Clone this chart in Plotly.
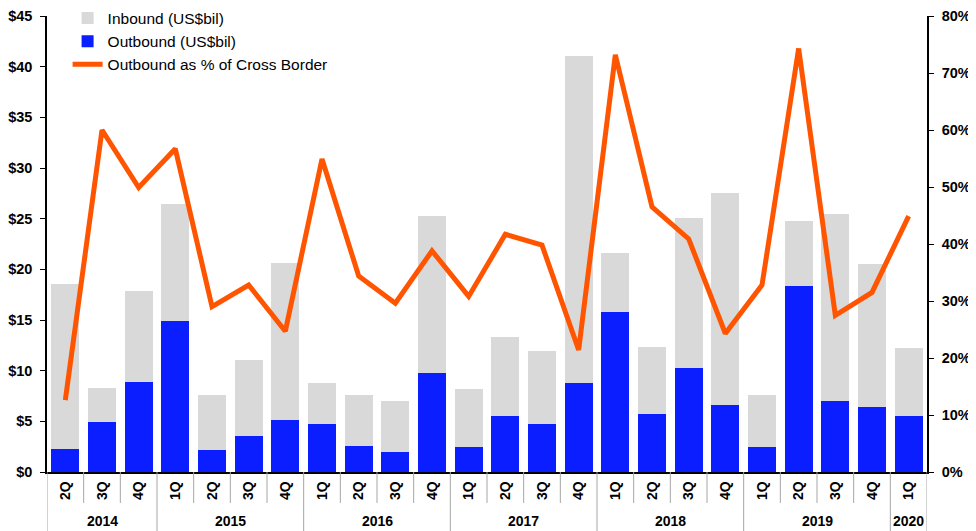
import plotly.graph_objects as go

years = ["2014"]*3 + ["2015"]*4 + ["2016"]*4 + ["2017"]*4 + ["2018"]*4 + ["2019"]*4 + ["2020"]
quarters = ["2Q", "3Q", "4Q"] + ["1Q", "2Q", "3Q", "4Q"]*5 + ["1Q"]

outbound = [2.27, 4.93, 8.88, 14.93, 2.14, 3.55, 5.10, 4.74, 2.57, 1.97, 9.74, 2.47,
            5.53, 4.74, 8.75, 15.79, 5.72, 10.23, 6.61, 2.47, 18.39, 6.97, 6.41, 5.49]
inbound = [16.28, 3.36, 9.02, 11.52, 5.49, 7.47, 15.53, 4.01, 5.00, 5.00, 15.49, 5.69,
           7.76, 7.20, 32.34, 5.79, 6.62, 14.80, 20.89, 5.13, 6.35, 18.46, 14.09, 6.78]
outbound_pct = [0.126, 0.600, 0.499, 0.567, 0.290, 0.328, 0.247, 0.549, 0.344, 0.296, 0.388, 0.308,
                0.417, 0.398, 0.214, 0.732, 0.465, 0.409, 0.243, 0.328, 0.743, 0.275, 0.315, 0.449]

left_ticks = list(range(0, 50, 5))
left_labels = [f"${v}" for v in left_ticks]
right_ticks = [i / 10 for i in range(0, 9)]
right_labels = [f"{i*10}%" for i in range(0, 9)]

FONT = "Liberation Sans, Arial, sans-serif"
GRID = "#A6A6A6"
cats = [f"{q} {y}" for y, q in zip(years, quarters)]
n = len(cats)

fig = go.Figure()
fig.add_trace(go.Bar(x=cats, y=outbound, name="Outbound (US$bil)", marker=dict(color="#0A1EFF", line=dict(width=0)),
                     legendrank=2, legendgroup="b"))
fig.add_trace(go.Bar(x=cats, y=inbound, name="Inbound (US$bil)", marker=dict(color="#D9D9D9", line=dict(width=0)),
                     legendrank=1, legendgroup="a"))
fig.add_trace(go.Scatter(x=cats, y=outbound_pct, name="Outbound as % of Cross Border", mode="lines",
                         line=dict(color="#FF5500", width=5), yaxis="y2", legendrank=3, legendgroup="c"))

# year group boundaries and centres (category index units)
groups = []
start = 0
for i in range(1, n + 1):
    if i == n or years[i] != years[start]:
        groups.append((years[start], start, i - 1))
        start = i

PLOT_H = 456
quarter_sep = -31 / PLOT_H
bottom = -59 / PLOT_H
year_bounds = {g[1] - 0.5 for g in groups} | {groups[-1][2] + 0.5}

for i in range(n + 1):
    b = i - 0.5
    fig.add_shape(type="line", xref="x", yref="paper", x0=b, x1=b, y0=0,
                  y1=bottom if b in year_bounds else quarter_sep,
                  line=dict(color=GRID, width=1), layer="above")

for label, s, e in groups:
    fig.add_annotation(x=(s + e) / 2, y=-49 / PLOT_H, xref="x", yref="paper", text=label,
                       showarrow=False, yanchor="middle",
                       font=dict(size=14, family=FONT, weight="bold", color="black"))

# page body has an 8px default margin: size the figure so the plot area lands where the reference has it
fig.update_layout(
    width=968, height=523,
    margin=dict(l=39, r=49, t=8, b=59, autoexpand=False),
    barmode="stack", bargap=0.245,
    plot_bgcolor="white", paper_bgcolor="white",
    font=dict(family=FONT, size=14, color="black"),
    showlegend=True,
    legend=dict(x=0.0234, y=1.032, xanchor="left", yanchor="top", bgcolor="rgba(0,0,0,0)",
                traceorder="grouped", tracegroupgap=0, font=dict(size=15.5, family=FONT),
                itemwidth=30),
    xaxis=dict(type="category", range=[-0.5, n - 0.5], tickvals=cats, ticktext=quarters,
               showline=True, linecolor="black", linewidth=1.5,
               tickangle=-90, tickfont=dict(size=14, family=FONT, weight="bold"),
               ticks="", ticklabelstandoff=2,
               showgrid=False, automargin=False),
    yaxis=dict(range=[0, 45], tickvals=left_ticks, ticktext=left_labels, showline=True,
               linecolor="black", linewidth=1.5, ticks="outside", ticklen=5, tickcolor="black",
               ticklabelstandoff=5,
               tickfont=dict(size=14.5, family=FONT, weight="bold"), showgrid=False, zeroline=False,
               automargin=False),
    yaxis2=dict(range=[0, 0.8], tickvals=right_ticks, ticktext=right_labels, overlaying="y", side="right",
                showline=True, linecolor="black", linewidth=1.5, ticks="outside", ticklen=5,
                ticklabelstandoff=5,
                tickcolor="black", tickfont=dict(size=14.5, family=FONT, weight="bold"),
                showgrid=False, zeroline=False, automargin=False),
)

fig.write_html("out.html")
